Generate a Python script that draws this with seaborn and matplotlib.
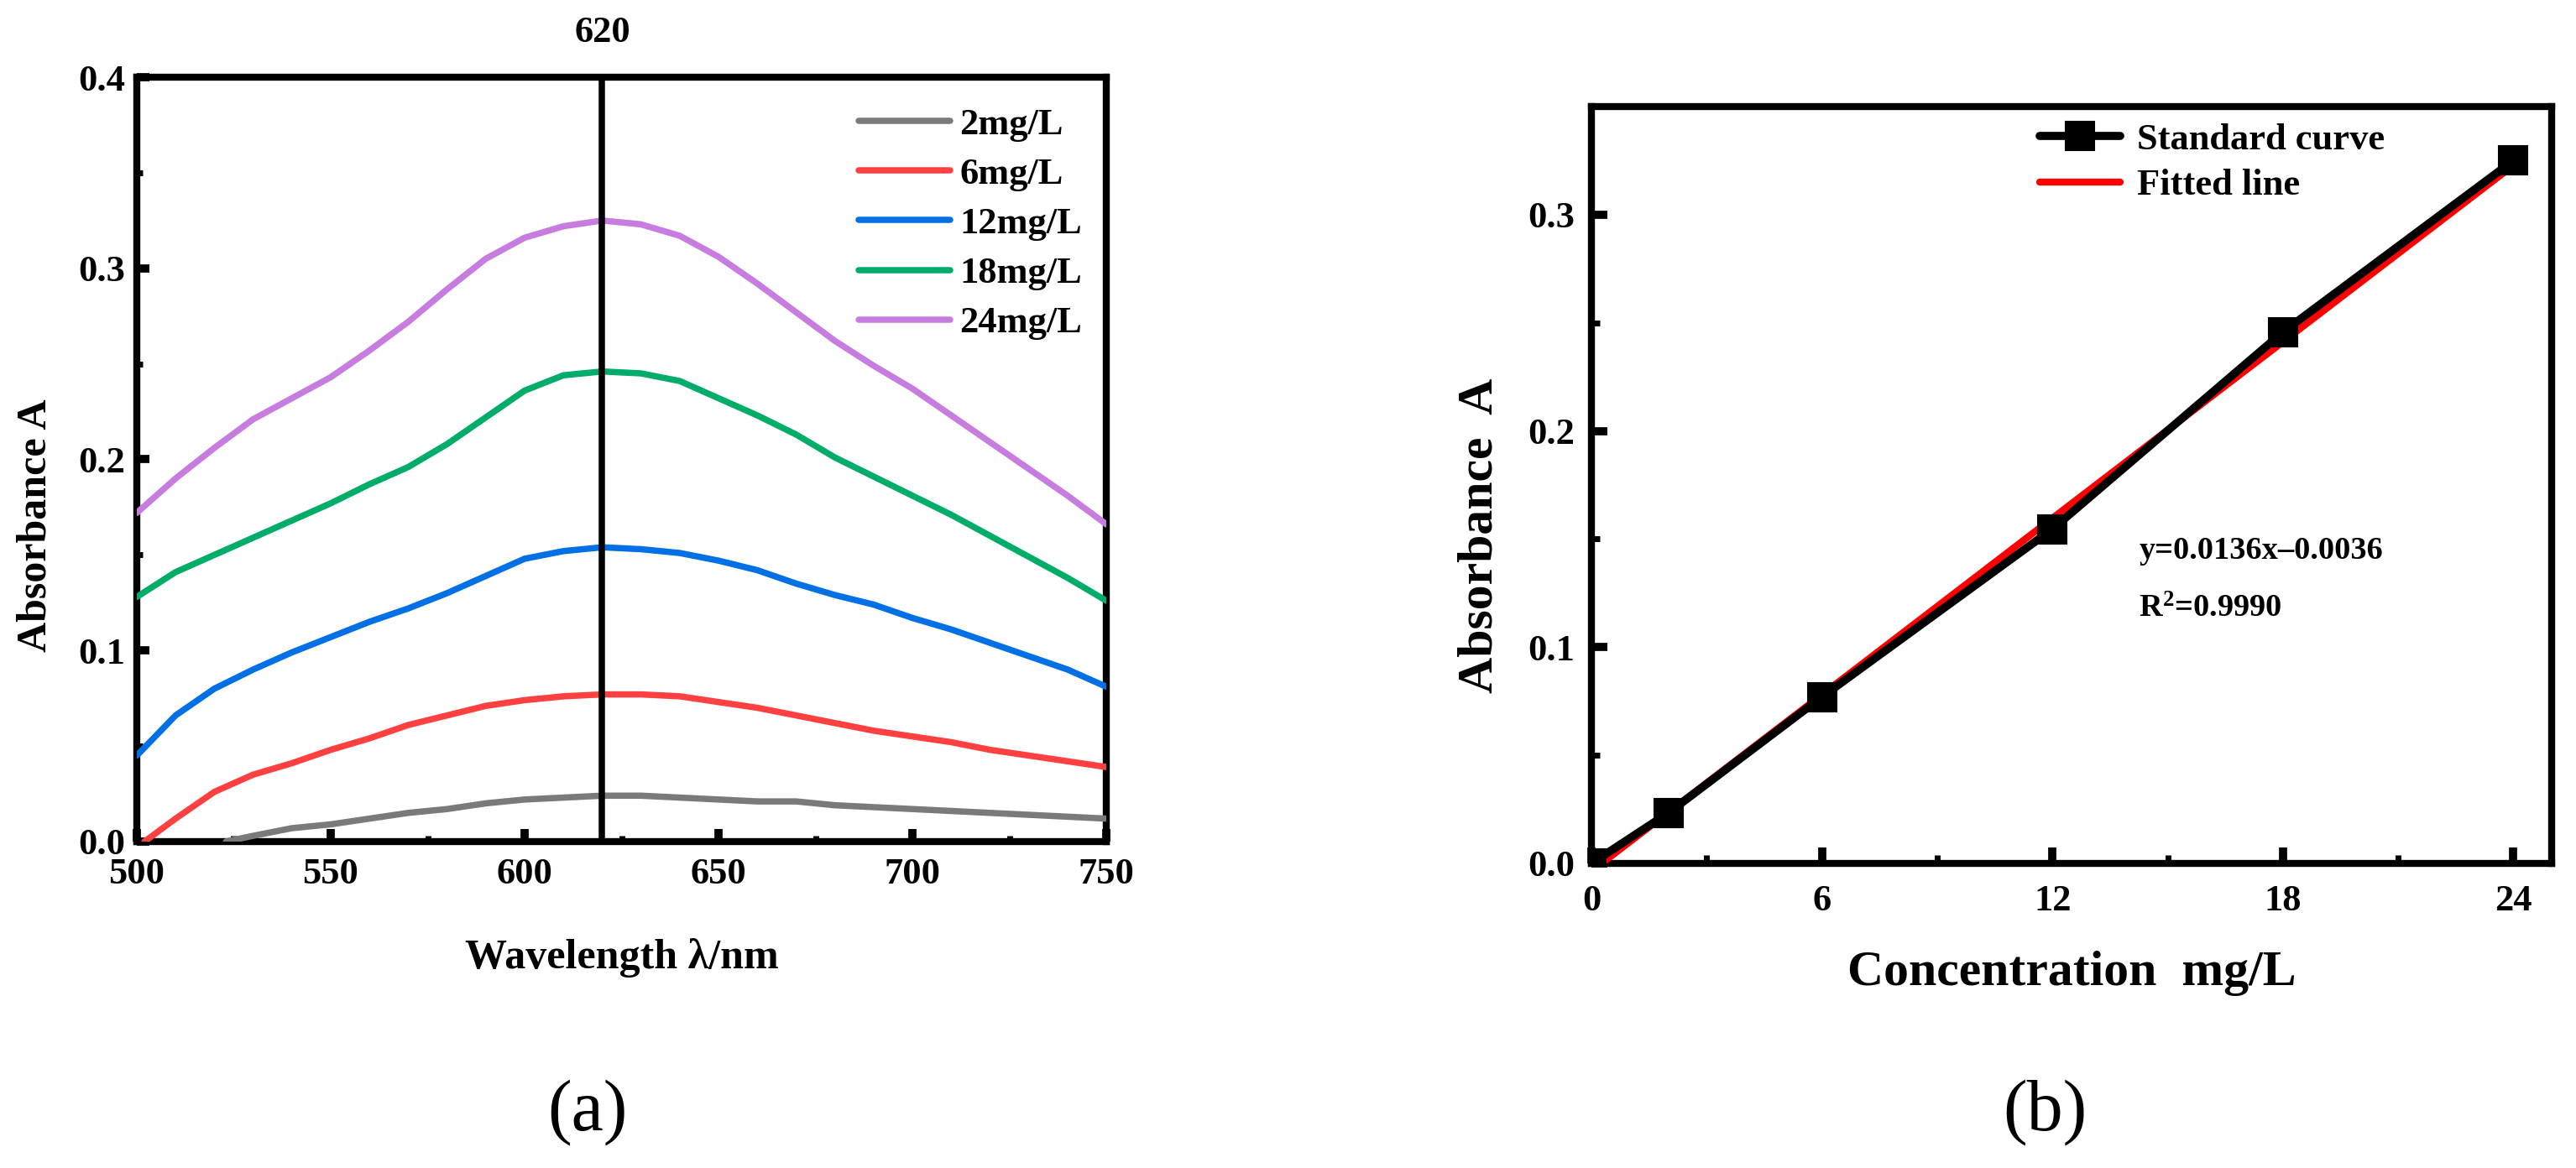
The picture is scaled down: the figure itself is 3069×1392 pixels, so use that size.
import numpy as np
import pandas as pd
import matplotlib
matplotlib.use("Agg")
import matplotlib.pyplot as plt
from matplotlib.ticker import MultipleLocator, FormatStrFormatter
import seaborn as sns

# ---------------- data: panel (a) absorption spectra ----------------
wl = [500, 510, 520, 530, 540, 550, 560, 570, 580, 590, 600, 610, 620,
      630, 640, 650, 660, 670, 680, 690, 700, 710, 720, 730, 740, 750]
wl_6 = [502, 510, 520, 530, 540, 550, 560, 570, 580, 590, 600, 610, 620,
        630, 640, 650, 660, 670, 680, 690, 700, 710, 720, 730, 740, 750]
wl_2 = [523, 530, 540, 550, 560, 570, 580, 590, 600, 610, 620,
        630, 640, 650, 660, 670, 680, 690, 700, 710, 720, 730, 740, 750]

abs_2 = [0.000, 0.003, 0.007, 0.009, 0.012, 0.015, 0.017, 0.020, 0.022, 0.023, 0.024,
         0.024, 0.023, 0.022, 0.021, 0.021, 0.019, 0.018, 0.017, 0.016, 0.015, 0.014, 0.013, 0.012]
abs_6 = [0.000, 0.012, 0.026, 0.035, 0.041, 0.048, 0.054, 0.061, 0.066, 0.071, 0.074, 0.076, 0.077,
         0.077, 0.076, 0.073, 0.070, 0.066, 0.062, 0.058, 0.055, 0.052, 0.048, 0.045, 0.042, 0.039]
abs_12 = [0.045, 0.066, 0.080, 0.090, 0.099, 0.107, 0.115, 0.122, 0.130, 0.139, 0.148, 0.152, 0.154,
          0.153, 0.151, 0.147, 0.142, 0.135, 0.129, 0.124, 0.117, 0.111, 0.104, 0.097, 0.090, 0.081]
abs_18 = [0.128, 0.141, 0.150, 0.159, 0.168, 0.177, 0.187, 0.196, 0.208, 0.222, 0.236, 0.244, 0.246,
          0.245, 0.241, 0.232, 0.223, 0.213, 0.201, 0.191, 0.181, 0.171, 0.160, 0.149, 0.138, 0.126]
abs_24 = [0.172, 0.190, 0.206, 0.221, 0.232, 0.243, 0.257, 0.272, 0.289, 0.305, 0.316, 0.322, 0.325,
          0.323, 0.317, 0.306, 0.292, 0.277, 0.262, 0.249, 0.237, 0.223, 0.209, 0.195, 0.181, 0.166]

series_labels = ["2mg/L", "6mg/L", "12mg/L", "18mg/L", "24mg/L"]
series_colors = ["#7a7a7a", "#ff4040", "#0070e4", "#00ac69", "#c77de0"]
peak_wl = 620

# ---------------- data: panel (b) standard curve ----------------
conc = [0, 2, 6, 12, 18, 24]
absorb = [0.000, 0.0233, 0.077, 0.1546, 0.2457, 0.325]
slope = 0.0136
intercept = -0.0036
fit_x = [0, 24]
eq_text = "y=0.0136x\u20130.0036"
r2_text = "R$^{2}$=0.9990"

# ---------------- style ----------------
sns.set_theme(style="ticks")
plt.rcParams["font.family"] = ["Liberation Serif", "DejaVu Serif"]
plt.rcParams.update({
    "font.weight": "bold",
    "axes.labelweight": "bold",
    "mathtext.fontset": "custom",
    "mathtext.rm": "Liberation Serif:bold",
    "mathtext.it": "Liberation Serif:bold",
    "mathtext.bf": "Liberation Serif:bold",
    "axes.linewidth": 3.0,
    "axes.edgecolor": "black",
    "xtick.color": "black",
    "ytick.color": "black",
    "text.color": "black",
    "axes.labelcolor": "black",
})

fig = plt.figure(figsize=(15.345, 6.96), dpi=200)
fig.patch.set_facecolor("white")

# ================= panel (a) =================
ax1 = fig.add_axes([0.0531, 0.2795, 0.3764, 0.6544])
rows = []
xs_list = [wl_2, wl_6, wl, wl, wl]
ys_list = [abs_2, abs_6, abs_12, abs_18, abs_24]
for lab, xs, ys in zip(series_labels, xs_list, ys_list):
    for x, y in zip(xs, ys):
        rows.append({"wl": x, "A": y, "conc": lab})
df_a = pd.DataFrame(rows)
sns.lineplot(data=df_a, x="wl", y="A", hue="conc", hue_order=series_labels,
             palette=series_colors, estimator=None, sort=False, linewidth=2.7,
             ax=ax1, legend=True, zorder=3)
ax1.axvline(peak_wl, color="black", linewidth=2.7, zorder=4)
ax1.set_xlim(500, 750)
ax1.set_ylim(0, 0.4)
ax1.xaxis.set_major_locator(MultipleLocator(50))
ax1.xaxis.set_minor_locator(MultipleLocator(25))
ax1.yaxis.set_major_locator(MultipleLocator(0.1))
ax1.yaxis.set_minor_locator(MultipleLocator(0.05))
ax1.yaxis.set_major_formatter(FormatStrFormatter("%.1f"))
ax1.tick_params(axis="both", which="major", direction="in", length=5.5, width=3.5,
                labelsize=16, top=False, right=False)
ax1.tick_params(axis="both", which="minor", direction="in", length=2.5, width=2.5,
                top=False, right=False)
ax1.tick_params(axis="y", which="major", pad=5)
ax1.tick_params(axis="x", which="major", pad=7)
ax1.set_xlabel("Wavelength \u03bb/nm", fontsize=18, labelpad=20)
ax1.set_ylabel("Absorbance A", fontsize=18, labelpad=10)
ax1.yaxis.label.set_y(0.413)
ax1.text(peak_wl, 0.4233, str(peak_wl), ha="center", va="center", fontsize=16,
         fontweight="bold", clip_on=False)
handles, labels = ax1.get_legend_handles_labels()
for h in handles:
    h.set_linewidth(2.7)
    h.set_solid_capstyle("round")
leg1 = ax1.legend(handles, labels, loc="upper left", bbox_to_anchor=(0.7446, 0.96),
                  frameon=False, fontsize=16, handlelength=2.45, handletextpad=0.25,
                  labelspacing=0.43, borderpad=0, borderaxespad=0)
for t in leg1.get_texts():
    t.set_fontweight("bold")

# ================= panel (b) =================
ax2 = fig.add_axes([0.6178, 0.2608, 0.3728, 0.6480])
df_b = pd.DataFrame({"conc": conc, "A": absorb})
fit_y = [slope * x + intercept for x in fit_x]
df_fit = pd.DataFrame({"conc": fit_x, "A": fit_y})
sns.lineplot(data=df_b, x="conc", y="A", color="black", marker="s", markersize=12.5,
             markeredgecolor="black", linewidth=3.5, ax=ax2, label="Standard curve",
             zorder=3, estimator=None, sort=False)
sns.lineplot(data=df_fit, x="conc", y="A", color="#ff0000", linewidth=3.0, ax=ax2,
             label="Fitted line", zorder=2.8, estimator=None, sort=False)
ax2.set_xlim(0, 25)
ax2.set_ylim(0, 0.35)
ax2.set_xticks([0, 6, 12, 18, 24])
ax2.xaxis.set_minor_locator(MultipleLocator(3))
ax2.set_yticks([0.0, 0.1, 0.2, 0.3])
ax2.yaxis.set_minor_locator(MultipleLocator(0.05))
ax2.yaxis.set_major_formatter(FormatStrFormatter("%.1f"))
ax2.tick_params(axis="both", which="major", direction="in", length=7, width=3.5,
                labelsize=16, top=False, right=False)
ax2.tick_params(axis="both", which="minor", direction="in", length=3.6, width=2.5,
                top=False, right=False)
ax2.tick_params(axis="y", which="major", pad=7)
ax2.tick_params(axis="x", which="major", pad=9)
ax2.set_xlabel("Concentration  mg/L", fontsize=21.5, labelpad=14)
ax2.set_ylabel("Absorbance  A", fontsize=21.5, labelpad=11)
ax2.yaxis.label.set_y(0.4335)
ax2.text(14.25, 0.141, eq_text, ha="left", va="baseline", fontsize=13.8, fontweight="bold")
ax2.text(14.25, 0.114, r2_text, ha="left", va="baseline", fontsize=13.8, fontweight="bold")
h2, l2 = ax2.get_legend_handles_labels()
leg2 = ax2.legend(h2, l2, loc="upper left", bbox_to_anchor=(0.4668, 0.978),
                  frameon=False, fontsize=16, handlelength=2.15, handletextpad=0.45,
                  labelspacing=0.32, borderpad=0, borderaxespad=0)
for t in leg2.get_texts():
    t.set_fontweight("bold")

# panel labels
fig.text(700 / 3069, 1 - 1326 / 1392, "(a)", ha="center", va="center", fontsize=31,
         fontweight="normal")
fig.text(2436 / 3069, 1 - 1326 / 1392, "(b)", ha="center", va="center", fontsize=31,
         fontweight="normal")

fig.savefig("out.png", dpi=200, facecolor="white")
